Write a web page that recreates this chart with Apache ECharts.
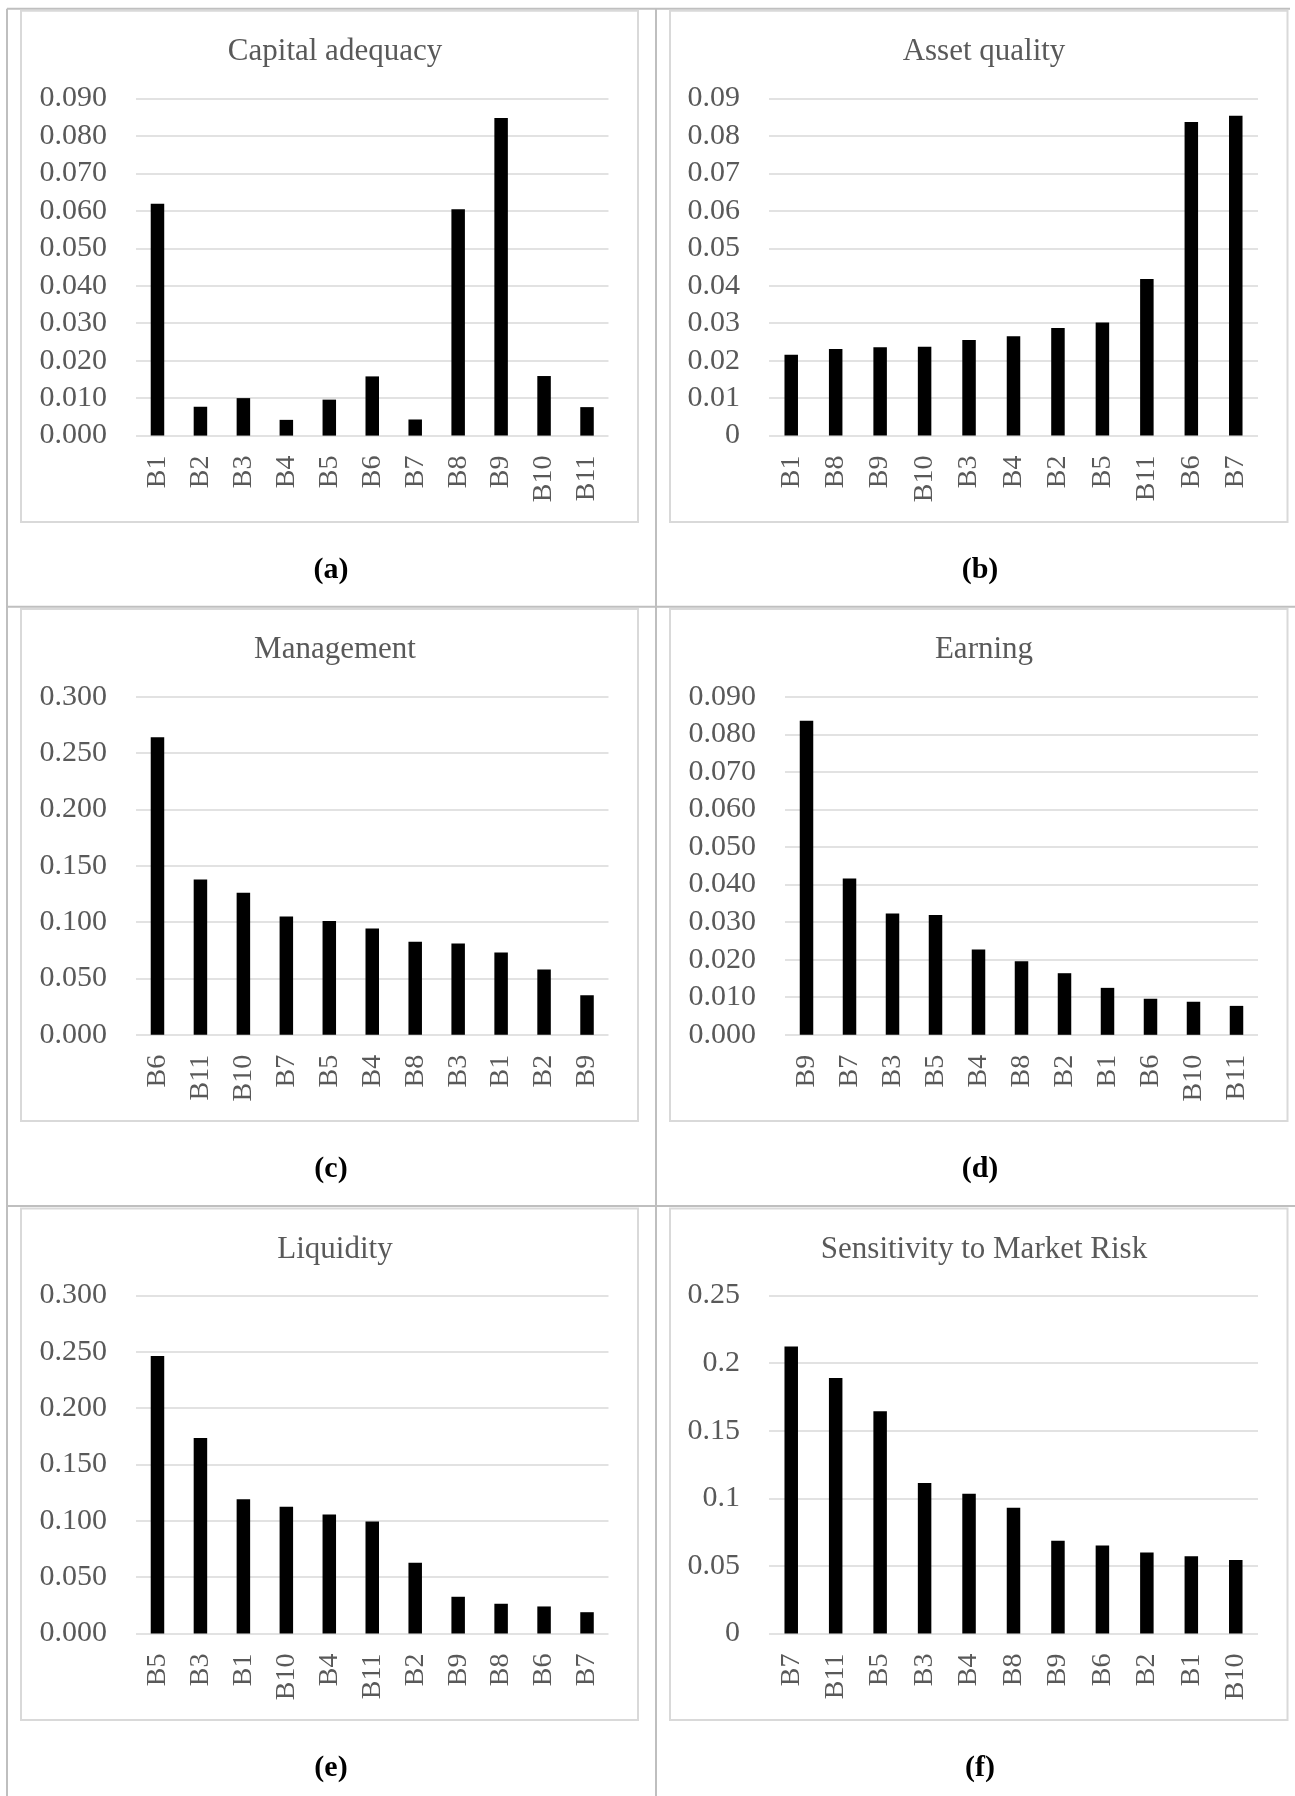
<!DOCTYPE html>
<html>
<head>
<meta charset="utf-8">
<script src="https://cdn.jsdelivr.net/npm/echarts@6/dist/echarts.min.js"></script>
<style>
  html, body { margin: 0; padding: 0; background: #ffffff; }
  #chart { width: 1295px; height: 1796px; }
</style>
</head>
<body>
<div id="chart"></div>
<script>
// ---- Data: CAMELS component scores per bank ----
const capitalBanks   = ['B1', 'B2', 'B3', 'B4', 'B5', 'B6', 'B7', 'B8', 'B9', 'B10', 'B11'];
const capitalValues  = [0.0619, 0.0077, 0.0100, 0.0042, 0.0096, 0.0158, 0.0043, 0.0604, 0.0848, 0.0159, 0.0076];

const assetBanks     = ['B1', 'B8', 'B9', 'B10', 'B3', 'B4', 'B2', 'B5', 'B11', 'B6', 'B7'];
const assetValues    = [0.0216, 0.0231, 0.0236, 0.0237, 0.0255, 0.0265, 0.0287, 0.0302, 0.0418, 0.0837, 0.0854];

const managementBanks  = ['B6', 'B11', 'B10', 'B7', 'B5', 'B4', 'B8', 'B3', 'B1', 'B2', 'B9'];
const managementValues = [0.2642, 0.1379, 0.1260, 0.1049, 0.1011, 0.0944, 0.0825, 0.0811, 0.0730, 0.0579, 0.0351];

const earningBanks   = ['B9', 'B7', 'B3', 'B5', 'B4', 'B8', 'B2', 'B1', 'B6', 'B10', 'B11'];
const earningValues  = [0.0836, 0.0416, 0.0323, 0.0319, 0.0227, 0.0196, 0.0164, 0.0125, 0.0096, 0.0088, 0.0077];

const liquidityBanks  = ['B5', 'B3', 'B1', 'B10', 'B4', 'B11', 'B2', 'B9', 'B8', 'B6', 'B7'];
const liquidityValues = [0.2464, 0.1736, 0.1191, 0.1126, 0.1057, 0.0995, 0.0628, 0.0326, 0.0264, 0.0240, 0.0189];

const marketBanks    = ['B7', 'B11', 'B5', 'B3', 'B4', 'B8', 'B9', 'B6', 'B2', 'B1', 'B10'];
const marketValues   = [0.2123, 0.1889, 0.1643, 0.1114, 0.1034, 0.0931, 0.0686, 0.0651, 0.0600, 0.0571, 0.0543];

// Panel titles, sub-figure tags and value axis settings
const panelTitles = ['Capital adequacy', 'Asset quality', 'Management', 'Earning', 'Liquidity', 'Sensitivity to Market Risk'];
const panelTags   = ['(a)', '(b)', '(c)', '(d)', '(e)', '(f)'];
const axisMax      = [0.09, 0.09, 0.3, 0.09, 0.3, 0.25];
const axisInterval = [0.01, 0.01, 0.05, 0.01, 0.05, 0.05];
const axisDecimals = [3, null, 3, 3, 3, null]; // null: general number format

const panelCategories = [capitalBanks, assetBanks, managementBanks, earningBanks, liquidityBanks, marketBanks];
const panelValues     = [capitalValues, assetValues, managementValues, earningValues, liquidityValues, marketValues];

// ---- Layout (pixels) ----
const TEXT = '#595959';
const GRIDLINE = '#d9d9d9';
const FONT = '"Liberation Serif", "Times New Roman", serif';

const colBoxLeft  = [21, 670];
const colBoxRight = [638, 1287.5];
const colCenter   = [330, 979];
const rowBoxTop    = [10.7, 609, 1208.5];
const rowBoxBottom = [522, 1121, 1720];
const rowPlotTop   = [98.4, 696.8, 1295.5];
const rowPlotH     = [337.2, 338, 338];
const rowTitleY    = [48, 646.5, 1246];
const rowTagY      = [570, 1169, 1768];

function fmt(dec) {
  return function (v) {
    if (dec === null) return String(+v.toFixed(4));
    return v.toFixed(dec);
  };
}

const grids = [], xAxes = [], yAxes = [], series = [], titles = [], graphics = [];

// Table rules around the sub-figures
const TABLE = '#bfbfbf';
graphics.push(
  { type: 'line', shape: { x1: 7, y1: 8.7, x2: 1290, y2: 8.7 }, style: { stroke: TABLE, lineWidth: 2 } },
  { type: 'line', shape: { x1: 7, y1: 8.7, x2: 7, y2: 1796 }, style: { stroke: TABLE, lineWidth: 2 } },
  { type: 'line', shape: { x1: 656, y1: 8.7, x2: 656, y2: 1796 }, style: { stroke: TABLE, lineWidth: 2 } },
  { type: 'line', shape: { x1: 7, y1: 606.7, x2: 1295, y2: 606.7 }, style: { stroke: TABLE, lineWidth: 2 } },
  { type: 'line', shape: { x1: 7, y1: 1206, x2: 1295, y2: 1206 }, style: { stroke: TABLE, lineWidth: 2 } }
);

for (let i = 0; i < 6; i++) {
  const col = i % 2, row = Math.floor(i / 2);
  const dec = axisDecimals[i];
  const plotRight = colBoxRight[col] - 29.5;
  const plotLeft = colBoxLeft[col] + (dec === null ? 99 : 115);

  grids.push({
    left: plotLeft,
    top: rowPlotTop[row],
    width: plotRight - plotLeft,
    height: rowPlotH[row],
    containLabel: false
  });

  xAxes.push({
    type: 'category',
    gridIndex: i,
    data: panelCategories[i],
    axisLine: { show: false },
    axisTick: { show: false },
    axisLabel: {
      rotate: 90,
      margin: 20,
      color: TEXT,
      fontFamily: FONT,
      fontSize: 28,
      interval: 0
    }
  });

  yAxes.push({
    type: 'value',
    gridIndex: i,
    min: 0,
    max: axisMax[i],
    interval: axisInterval[i],
    axisLine: { show: false },
    axisTick: { show: false },
    splitLine: { lineStyle: { color: GRIDLINE, width: 1.5 } },
    axisLabel: {
      margin: 29,
      color: TEXT,
      fontFamily: FONT,
      fontSize: 30,
      formatter: fmt(dec)
    }
  });

  series.push({
    type: 'bar',
    xAxisIndex: i,
    yAxisIndex: i,
    data: panelValues[i],
    barWidth: 13.5,
    itemStyle: { color: '#000000' },
    silent: true
  });

  titles.push({
    text: panelTitles[i],
    left: colCenter[col],
    top: rowTitleY[row] - 17,
    textAlign: 'center',
    textStyle: { color: TEXT, fontFamily: FONT, fontSize: 31, fontWeight: 'normal' }
  });

  // Chart area border
  graphics.push({
    type: 'rect',
    shape: {
      x: colBoxLeft[col], y: rowBoxTop[row],
      width: colBoxRight[col] - colBoxLeft[col],
      height: rowBoxBottom[row] - rowBoxTop[row]
    },
    style: { fill: 'none', stroke: GRIDLINE, lineWidth: 2 }
  });

  // Sub-figure tag
  graphics.push({
    type: 'text',
    x: colCenter[col] + 1,
    y: rowTagY[row],
    style: {
      text: panelTags[i],
      fill: '#000000',
      font: 'bold 30px ' + FONT,
      textAlign: 'center',
      textVerticalAlign: 'middle'
    }
  });
}

const chart = echarts.init(document.getElementById('chart'), null, { renderer: 'canvas' });
chart.setOption({
  backgroundColor: '#ffffff',
  animation: false,
  title: titles,
  grid: grids,
  xAxis: xAxes,
  yAxis: yAxes,
  series: series,
  graphic: graphics
});
</script>
</body>
</html>
